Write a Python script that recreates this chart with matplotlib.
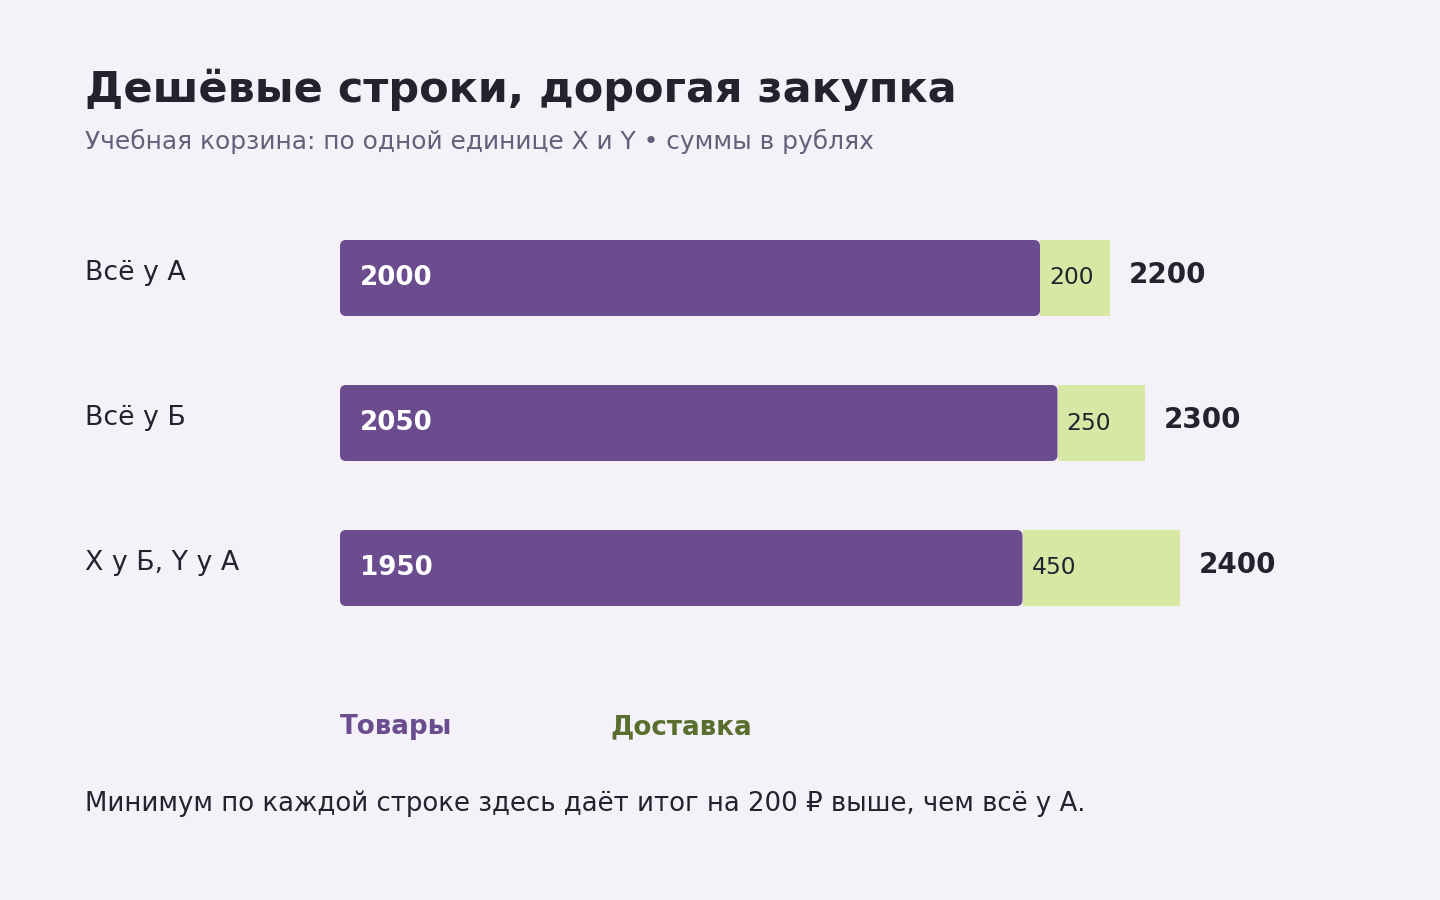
import matplotlib.pyplot as plt
from matplotlib.patches import FancyBboxPatch

plt.rcParams['font.family'] = ['DejaVu Sans']

# Данные
варианты = ['Всё у А', 'Всё у Б', 'X у Б, Y у А']
товары = [2000, 2050, 1950]
доставка = [200, 250, 450]
итого = [t + d for t, d in zip(товары, доставка)]

ФОН = '#f4f2f8'
ФИОЛЕТ = '#6a4c8f'
САЛАТ = '#d6e8a4'
ТЕМНЫЙ = '#23222f'
СЕРЫЙ = '#64607a'
ЗЕЛЕНЫЙ = '#5a6e2e'

W, H = 1440, 900
fig = plt.figure(figsize=(14.4, 9), dpi=100, facecolor=ФОН)

# Оси для полос: слева 340 px, 0.35 px на рубль
px_per_rub = 0.35
ax_left, ax_right = 340, 1440
ax_top, ax_bottom = 205.5, 640.5
ax = fig.add_axes([ax_left / W, 1 - ax_bottom / H,
                   (ax_right - ax_left) / W, (ax_bottom - ax_top) / H])
ax.set_facecolor(ФОН)
ax.set_xlim(0, (ax_right - ax_left) / px_per_rub)
ax.set_ylim(2.5, -0.5)
ax.axis('off')

высота = 76 / 145
радиус_px = 6
rub_per_px = 1 / px_per_rub
unit_per_px_y = 3 / (ax_bottom - ax_top)
аспект = unit_per_px_y / rub_per_px

for i, (t, d, s) in enumerate(zip(товары, доставка, итого)):
    # Товары — скруглённая полоса
    p = FancyBboxPatch((0, i - высота / 2), t, высота,
                       boxstyle=f'round,pad=0,rounding_size={радиус_px * rub_per_px}',
                       mutation_aspect=аспект, facecolor=ФИОЛЕТ, edgecolor='none')
    ax.add_patch(p)
    # Доставка
    ax.barh(i, d, left=t, height=высота, color=САЛАТ, edgecolor='none')

    ax.annotate(str(t), (0, i), xytext=(20, 0), textcoords='offset pixels',
                ha='left', va='center', color='white', fontsize=18.8, fontweight='bold')
    ax.annotate(str(d), (t, i), xytext=(9, 0), textcoords='offset pixels',
                ha='left', va='center', color=ТЕМНЫЙ, fontsize=16.8)
    ax.annotate(str(s), (s, i), xytext=(19, 3), textcoords='offset pixels',
                ha='left', va='center', color=ТЕМНЫЙ, fontsize=20, fontweight='bold')

    # Подпись варианта
    y_px = ax_top + (i + 0.5) * 145 - 5
    fig.text(85 / W, 1 - y_px / H, варианты[i], ha='left', va='center',
             color=ТЕМНЫЙ, fontsize=19.3)

# Заголовок и подзаголовок
fig.text(85 / W, 1 - 90 / H, 'Дешёвые строки, дорогая закупка', ha='left', va='center',
         color=ТЕМНЫЙ, fontsize=31, fontweight='bold')
fig.text(85 / W, 1 - 141 / H, 'Учебная корзина: по одной единице X и Y • суммы в рублях',
         ha='left', va='center', color=СЕРЫЙ, fontsize=17.9)

# Легенда
fig.text(340 / W, 1 - 727 / H, 'Товары', ha='left', va='center',
         color=ФИОЛЕТ, fontsize=18.8, fontweight='bold')
fig.text(610 / W, 1 - 727 / H, 'Доставка', ha='left', va='center',
         color=ЗЕЛЕНЫЙ, fontsize=18.8, fontweight='bold')

# Вывод
fig.text(85 / W, 1 - 804 / H,
         'Минимум по каждой строке здесь даёт итог на 200 ₽ выше, чем всё у А.',
         ha='left', va='center', color=ТЕМНЫЙ, fontsize=18.7)

plt.savefig('out.png', dpi=100, facecolor=ФОН)
